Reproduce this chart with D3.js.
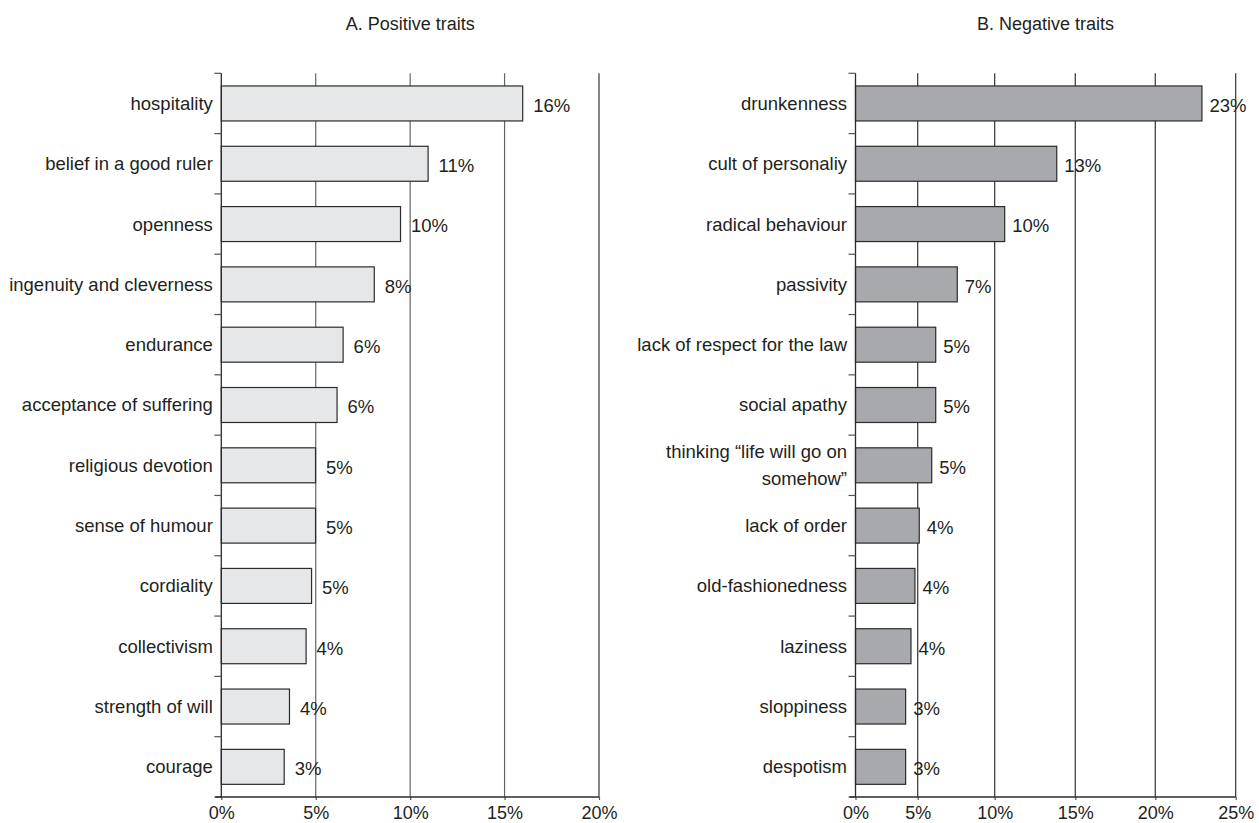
<!DOCTYPE html>
<html><head><meta charset="utf-8">
<script src="https://cdn.jsdelivr.net/npm/d3@7"></script>
<style>
html,body{margin:0;padding:0;background:#fff;}
text{font-family:"Liberation Sans",Arial,Helvetica,sans-serif;fill:#231f20;}
</style></head>
<body><svg id="c" width="1259" height="823"></svg>
<script>
// ---- data ----
const posTitle = "A. Positive traits";
const posCategories = ["hospitality","belief in a good ruler","openness","ingenuity and cleverness","endurance","acceptance of suffering","religious devotion","sense of humour","cordiality","collectivism","strength of will","courage"];
const posValues = [15.96,10.95,9.49,8.10,6.45,6.13,4.99,4.99,4.78,4.49,3.61,3.33];
const posLabels = ["16%","11%","10%","8%","6%","6%","5%","5%","5%","4%","4%","3%"];
const posTicks = [0,5,10,15,20];

const negTitle = "B. Negative traits";
const negCategories = ["drunkenness","cult of personaliy","radical behaviour","passivity","lack of respect for the law","social apathy","thinking \u201clife will go on\nsomehow\u201d","lack of order","old-fashionedness","laziness","sloppiness","despotism"];
const negValues = [22.9,13.85,10.62,7.57,6.17,6.17,5.91,5.10,4.78,4.46,4.03,4.03];
const negLabels = ["23%","13%","10%","7%","5%","5%","5%","4%","4%","4%","3%","3%"];
const negTicks = [0,5,10,15,20,25];
// the reference's negative axis is unevenly spaced; fractions of axis width per tick
const negTickFrac = [0,0.1636,0.3661,0.5781,0.7885,1];

const svg = d3.select("#c");

function panel(opt){
  const g = svg.append("g");
  const y = d3.scaleBand().domain(opt.cats).range([73.3,797]).paddingInner(0.42).paddingOuter(0.21);
  const yb = d3.scaleBand().domain(opt.cats).range([73.3,797]).padding(0);
  const x = opt.x;
  const x0 = x.range()[0], x1 = x.range()[x.range().length-1];
  // title
  g.append("text").attr("x",(x0+x1)/2).attr("y",30).attr("text-anchor","middle")
    .style("font-size","18px").text(opt.title);
  // gridlines
  g.selectAll("line.grid").data(opt.ticks.filter(d=>d>0)).join("line")
    .attr("x1",d=>x(d)).attr("x2",d=>x(d)).attr("y1",73.3).attr("y2",797)
    .attr("stroke",(d,i,a)=> opt.gridColor(d)).attr("stroke-width",1.2);
  // bars
  g.selectAll("rect").data(opt.vals).join("rect")
    .attr("x",x(0)).attr("y",(d,i)=>y(opt.cats[i]))
    .attr("width",d=>x(d)-x(0)).attr("height",y.bandwidth())
    .attr("fill",opt.fill).attr("stroke","#2b2b2b").attr("stroke-width",1.2);
  // value labels
  g.selectAll("text.val").data(opt.vals).join("text")
    .attr("x",d=>x(d)+opt.labOff).attr("y",(d,i)=>y(opt.cats[i])+y.bandwidth()/2)
    .attr("dy","0.45em").style("font-size","18.5px").text((d,i)=>opt.labels[i]);
  // y axis
  const boundaries = opt.cats.map(c=>yb(c)).concat([797]);
  g.append("line").attr("x1",x0).attr("x2",x0).attr("y1",73.3).attr("y2",797)
    .attr("stroke","#2b2b2b").attr("stroke-width",1.3);
  g.selectAll("line.yt").data(boundaries).join("line")
    .attr("x1",x0-7).attr("x2",x0).attr("y1",d=>d).attr("y2",d=>d)
    .attr("stroke","#555").attr("stroke-width",1.2);
  // category labels
  g.selectAll("text.cat").data(opt.cats).join("text")
    .attr("text-anchor","end").style("font-size","18.5px")
    .each(function(c){
      const lines = c.split("\n");
      const t = d3.select(this);
      const cy = y(c)+y.bandwidth()/2;
      const lh = 26.7;
      lines.forEach((l,k)=>{
        t.append("tspan").attr("x",x0-8.5)
          .attr("y",cy - (lines.length-1)*lh/2 + k*lh).attr("dy","0.35em").text(l);
      });
    });
  // x axis
  const ax = g.append("g").attr("transform","translate(0,797)")
    .call(d3.axisBottom(x).tickValues(opt.ticks).tickSize(3).tickPadding(6).tickFormat(d=>d+"%"));
  ax.select(".domain").remove();
  ax.append("line").attr("x1",x0-6).attr("x2",x1).attr("stroke","#2b2b2b").attr("stroke-width",1.3);
  ax.selectAll(".tick line").attr("stroke","#555").attr("stroke-width",1.2);
  ax.selectAll(".tick text").style("font-size","18px").style("font-family","'Liberation Sans',Arial,sans-serif").attr("fill","#231f20");
}

const xPos = d3.scaleLinear().domain([0,20]).range([221.3,599]);
panel({title:posTitle,cats:posCategories,vals:posValues,labels:posLabels,ticks:posTicks,x:xPos,
  fill:"#e6e7e8",labOff:10.5,gridColor:d=> d===20 ? "#333" : "#666"});

const nx0 = 855.5, nW = 380.2;
const xNeg = d3.scaleLinear().domain(negTicks).range(negTickFrac.map(f=>nx0+f*nW));
panel({title:negTitle,cats:negCategories,vals:negValues,labels:negLabels,ticks:negTicks,x:xNeg,
  fill:"#a7a9ac",labOff:7.5,gridColor:d=>"#333"});
</script></body></html>
